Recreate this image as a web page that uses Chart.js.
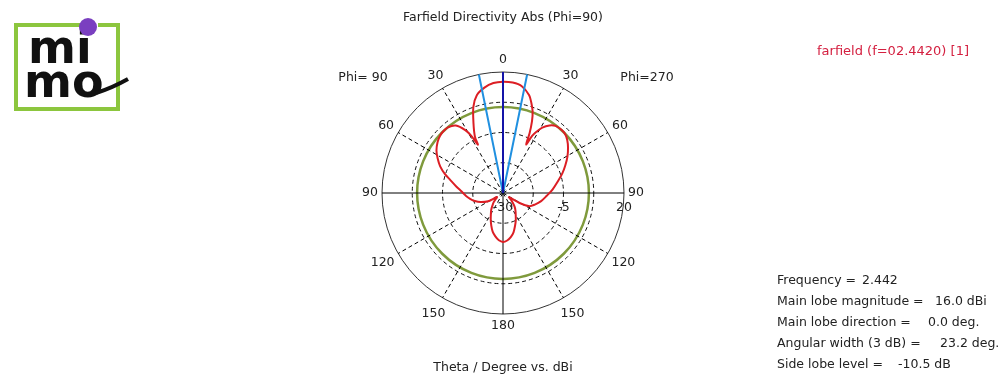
<!DOCTYPE html>
<html>
<head>
<meta charset="utf-8">
<title>Farfield Directivity Abs (Phi=90)</title>
<script src="https://cdn.jsdelivr.net/npm/chart.js@4.4.1/dist/chart.umd.min.js"></script>
<style>
  html, body { margin: 0; padding: 0; background: #fff; }
  #farfield { display: block; }
</style>
</head>
<body>
<canvas id="farfield" width="1000" height="383"></canvas>
<script>
// angular resolution of the radar "spokes" (degrees)
var angleStep = 0.5;

// theta tick labels and the dBi values that get a label
var thetaTicks = [0, 30, 60, 90, 120, 150, 180];
var dbiTicks = [-30, -5, 20];

// pattern, right half (Phi=270)
var thetaPhi270 = [0, 5, 10, 15, 17.5, 20, 22, 24, 25.5, 27, 28.5, 31, 34.5, 38, 43, 47, 50.5, 55, 60.5, 66,
                   71.5, 78, 86, 94, 102, 110, 116.5, 121, 125, 130, 135, 140, 145, 150, 155, 160, 165, 170, 175, 180];
var dbiPhi270 = [16, 15.8, 14.8, 11.8, 9, 5.8, 2, -3, -7.8, -3.5, -1.3, 1.5, 3.9, 5.2, 5.6, 5.3, 4.4, 2.8, 0.6, -1.8,
                 -4.1, -6.8, -9.5, -12, -13.9, -16, -17.8, -22, -27, -25.8, -24.3, -22.5, -21, -19.5, -17.5, -15.5, -13.2, -11.5, -10.3, -9.8];

// left half (Phi=90)
var thetaPhi90 = [0, 5, 10, 15, 19, 23, 26.5, 27.5, 29, 31, 35, 40, 44, 47.5, 52, 57.5, 62, 67, 72, 76,
                  82, 88, 95, 100, 106, 112, 119, 124, 130, 135, 140, 145, 150, 155, 160, 165, 170, 175, 180];
var dbiPhi90 = [16, 15.6, 14.2, 11.8, 7.6, 1.2, -4, -7.5, -3, 0.3, 4.0, 5.4, 5.5, 5.2, 4.3, 2.6, 0.6, -1.8, -4.8, -7.5,
                -10.5, -12.9, -14.8, -16.2, -17.9, -20, -23, -27, -26, -24.5, -23.2, -21.5, -20, -18, -15.8, -13.5, -11.8, -10.4, -9.8];

// summary values
var mainLobeDir = 0.0;
var beamWidth = 23.2;
var sideLobeLevel = 5.5;   // dBi, green circle
var dbiMin = -30, dbiMax = 20;

var infoLabels = ['Frequency =', 'Main lobe magnitude =', 'Main lobe direction =', 'Angular width (3 dB) =', 'Side lobe level ='];
var infoValues = ['2.442', '16.0 dBi', '0.0 deg.', '23.2 deg.', '-10.5 dB'];

// ---- build the radar tables ----
var spokes = [];
for (var a = 0; a < 360; a += angleStep) spokes.push(a);
var nSpokes = spokes.length;
var labels = spokes.map(function (a) { return a <= 180 ? a : 360 - a; });

function idxRight(t) { return Math.round(t / angleStep) % nSpokes; }
function idxLeft(t) { return Math.round((360 - t) / angleStep) % nSpokes; }
function emptySeries() { return spokes.map(function () { return null; }); }

var pattern = emptySeries();
thetaPhi270.forEach(function (t, k) { pattern[idxRight(t)] = dbiPhi270[k]; });
thetaPhi90.forEach(function (t, k) { pattern[idxLeft(t)] = dbiPhi90[k]; });

var centre = idxRight(180);
var mainLine = emptySeries();
mainLine[idxRight(mainLobeDir)] = dbiMax;
mainLine[centre] = dbiMin;

var beamR = emptySeries();
beamR[idxRight(mainLobeDir + beamWidth / 2)] = dbiMax;
beamR[centre] = dbiMin;
var beamL = emptySeries();
beamL[idxLeft(mainLobeDir + beamWidth / 2)] = dbiMax;
beamL[centre] = dbiMin;

var FAMILY = '"DejaVu Sans", Verdana, sans-serif';
var FONT = '12.5px ' + FAMILY;
var TEXT = '#222';

function labelDist(t) {
  if (t === 0 || t === 180 || t === 90) return 12;
  if (t > 90) return 18;
  return 14;
}

var overlay = {
  id: 'overlay',
  afterDraw: function (chart) {
    var ctx = chart.ctx;
    var r = chart.scales.r;
    ctx.save();
    ctx.font = FONT;
    ctx.fillStyle = TEXT;
    ctx.textAlign = 'center';
    ctx.textBaseline = 'middle';

    // theta labels round the circle
    thetaTicks.forEach(function (t) {
      var ids = (t === 0 || t === 180) ? [idxRight(t)] : [idxRight(t), idxLeft(t)];
      ids.forEach(function (i) {
        var p = r.getPointPosition(i, r.drawingArea + labelDist(t));
        ctx.fillText(String(t), p.x, p.y);
      });
    });

    // dBi labels along the right horizontal axis
    dbiTicks.forEach(function (v) {
      ctx.fillText(String(v), r.xCenter + r.getDistanceFromCenterForValue(v), r.yCenter + 15);
    });

    ctx.fillText('Phi= 90', r.xCenter - 140, r.yCenter - 115);
    ctx.fillText('Phi=270', r.xCenter + 144, r.yCenter - 115);

    // legend entry
    ctx.textAlign = 'left';
    ctx.font = '13px ' + FAMILY;
    ctx.fillStyle = '#d42040';
    ctx.fillText('farfield (f=02.4420) [1]', 817, 52);

    // info block
    ctx.font = FONT;
    ctx.fillStyle = TEXT;
    var valX = [853, 935, 928, 940, 898];
    infoLabels.forEach(function (s, k) {
      var y = 281 + k * 20.9;
      ctx.fillText(s, 777, y);
      var x = Math.max(valX[k], 777 + ctx.measureText(s).width + 6);
      ctx.fillText(infoValues[k], x, y);
    });

    // mimo logo
    ctx.strokeStyle = '#8cc63e';
    ctx.lineWidth = 4;
    ctx.beginPath();
    ctx.moveTo(80, 25); ctx.lineTo(16, 25); ctx.lineTo(16, 109);
    ctx.lineTo(118, 109); ctx.lineTo(118, 25); ctx.lineTo(98, 25);
    ctx.stroke();
    ctx.fillStyle = '#111';
    ctx.font = 'bold 46px ' + FAMILY;
    ctx.textBaseline = 'alphabetic';
    ctx.fillText('mi', 28, 63);
    ctx.fillText('mo', 24, 97);
    ctx.strokeStyle = '#111';
    ctx.lineWidth = 4;
    ctx.beginPath();
    ctx.moveTo(96, 93);
    ctx.quadraticCurveTo(112, 88, 128, 79);
    ctx.stroke();
    ctx.fillStyle = '#7a3fc0';
    ctx.beginPath();
    ctx.arc(88, 27, 9, 0, Math.PI * 2);
    ctx.fill();
    ctx.restore();
  }
};

var chart = new Chart(document.getElementById('farfield').getContext('2d'), {
  type: 'radar',
  data: {
    labels: labels,
    datasets: [{
      label: 'main lobe direction',
      data: mainLine,
      borderColor: '#1414a8',
      borderWidth: 2,
      spanGaps: true,
      tension: 0
    }, {
      label: 'beam edge',
      data: beamR,
      borderColor: '#2090e0',
      borderWidth: 2,
      spanGaps: true,
      tension: 0
    }, {
      label: 'beam edge',
      data: beamL,
      borderColor: '#2090e0',
      borderWidth: 2,
      spanGaps: true,
      tension: 0
    }, {
      label: 'farfield (f=02.4420) [1]',
      data: pattern,
      borderColor: '#dc1e24',
      borderWidth: 2,
      spanGaps: true,
      tension: 0.3
    }]
  },
  options: {
    responsive: false,
    animation: false,
    font: { family: FAMILY },
    layout: { padding: { left: 381, right: 375, top: 0, bottom: 0 } },
    elements: {
      point: { radius: 0, hoverRadius: 0 },
      line: { fill: false }
    },
    plugins: {
      legend: { display: false },
      tooltip: { enabled: false },
      title: {
        display: true,
        text: 'Farfield Directivity Abs (Phi=90)',
        color: TEXT,
        font: { family: FAMILY, size: 12.5, weight: 'normal', lineHeight: 1.25 },
        padding: { top: 10, bottom: 45.4 }
      },
      subtitle: {
        display: true,
        position: 'bottom',
        text: 'Theta / Degree vs. dBi',
        color: TEXT,
        font: { family: FAMILY, size: 12.5, lineHeight: 1.25 },
        padding: { top: 45.2, bottom: 7.2 }
      }
    },
    scales: {
      r: {
        min: dbiMin,
        max: dbiMax,
        startAngle: 0,
        ticks: { display: false, stepSize: 12.5 },
        afterBuildTicks: function (scale) {
          scale.ticks.push({ value: sideLobeLevel });
          scale.ticks.sort(function (a, b) { return a.value - b.value; });
        },
        pointLabels: { display: false },
        grid: {
          circular: true,
          color: function (c) {
            if (c.tick && c.tick.value === sideLobeLevel) return '#7f9a3c';
            if (c.tick && c.tick.value === dbiMax) return '#333';
            return '#111';
          },
          lineWidth: function (c) {
            return c.tick && c.tick.value === sideLobeLevel ? 2.5 : 1;
          }
        },
        border: {
          dash: function (c) {
            var v = c.tick && c.tick.value;
            return (v === dbiMax || v === sideLobeLevel) ? [] : [4, 3];
          }
        },
        angleLines: {
          color: function (c) { return c.index % 60 === 0 ? '#000' : 'rgba(0,0,0,0)'; },
          lineWidth: function (c) { return c.index % 60 === 0 ? 1 : 0; },
          borderDash: function (c) { return c.index % 180 === 0 ? [] : [4, 3]; }
        }
      }
    }
  },
  plugins: [overlay]
});
</script>
</body>
</html>
